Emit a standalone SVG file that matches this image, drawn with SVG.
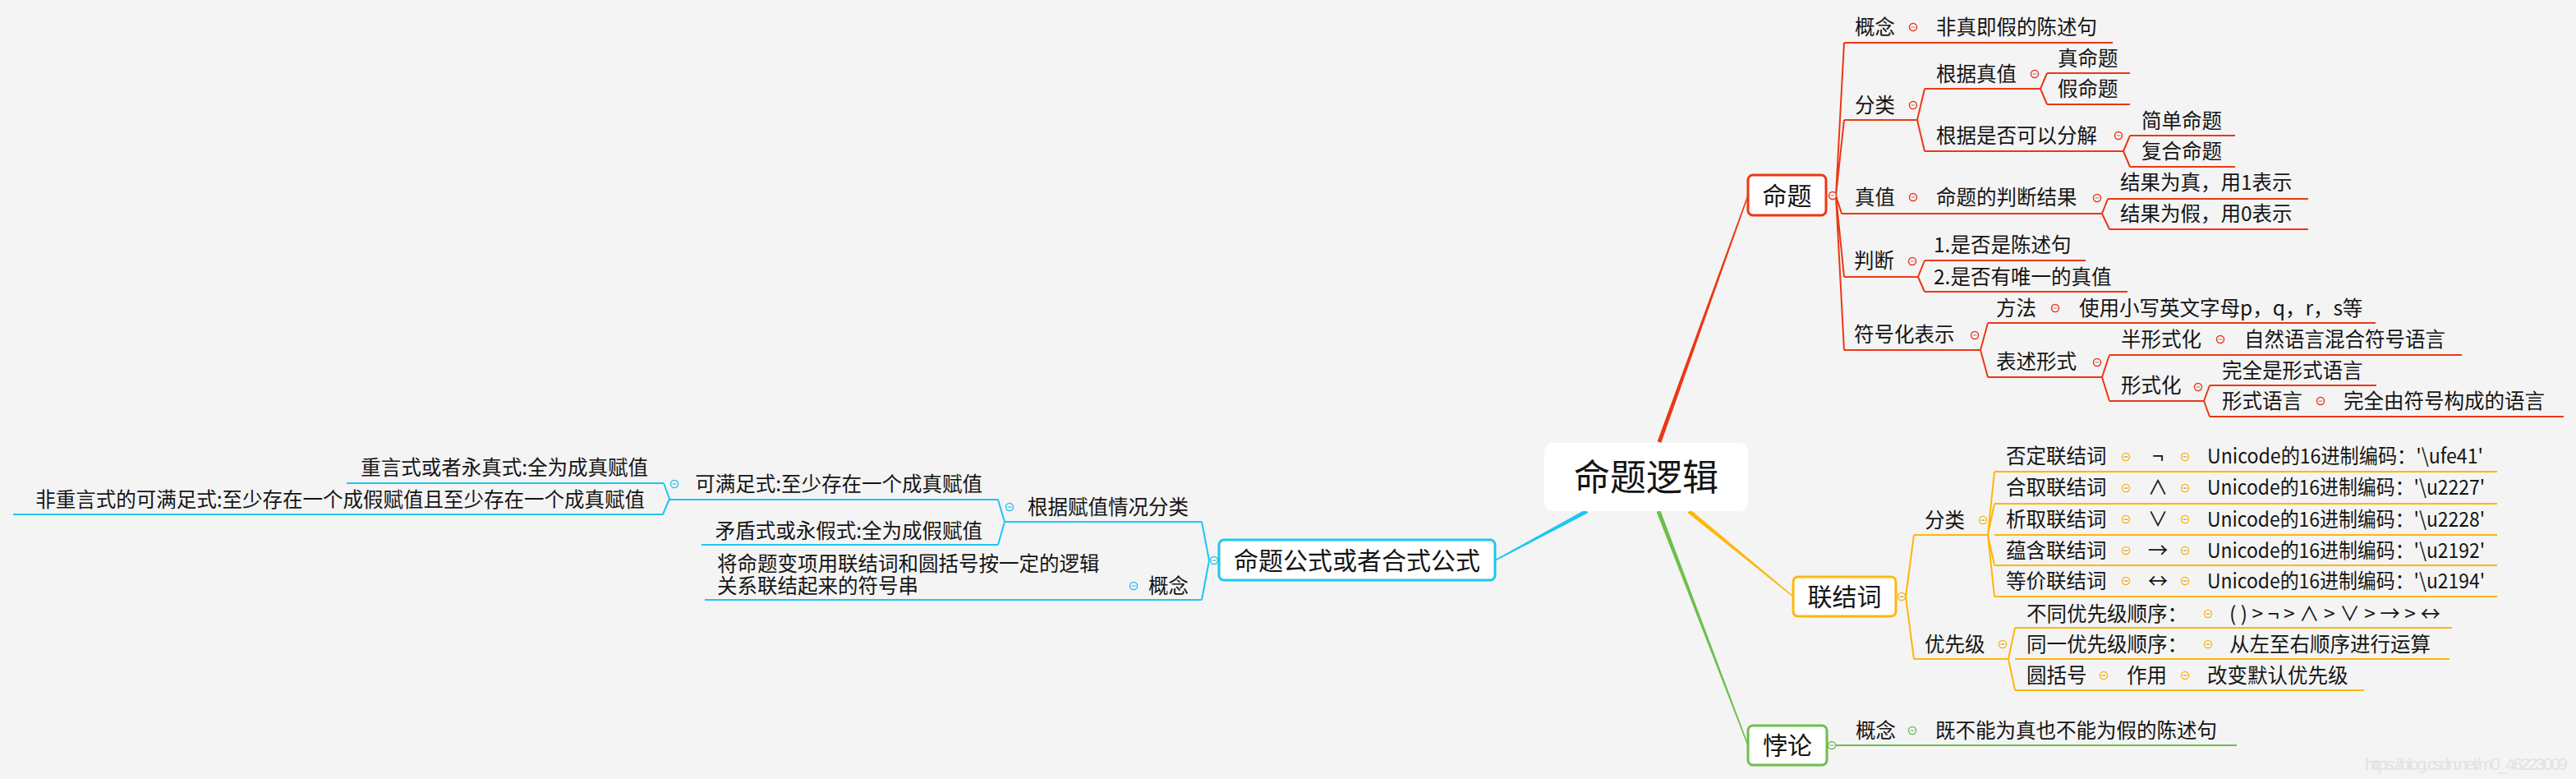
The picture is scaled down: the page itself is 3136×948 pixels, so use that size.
<svg xmlns="http://www.w3.org/2000/svg" xmlns:xlink="http://www.w3.org/1999/xlink" width="3136" height="948" viewBox="0 0 3136 948">
<style>
text{font-family:"Noto Sans CJK SC","Noto Sans",sans-serif;fill:#141414}
.t{font-size:24.5px}
.m{font-size:30px;text-anchor:middle}
.c{font-size:44px;text-anchor:middle}
.e{text-anchor:end}
.ln{fill:none;stroke-width:2}
.R{stroke:#ec3714;color:#ec3714}
.O{stroke:#ffb60a;color:#ffb60a}
.G{stroke:#6cbf4b;color:#6cbf4b}
.B{stroke:#1cc6f2;color:#1cc6f2}
.box{fill:#fff;stroke-width:3}
.wm{font-family:"Liberation Sans",sans-serif;font-size:21px;fill:#e2e2e2}
</style>
<defs>
<g id="tg"><circle r="4.5" fill="#fff" stroke="currentColor" stroke-width="1.5"/><path d="M-2.5,0H2.5" stroke="#8090b0" stroke-width="1.2"/></g>
</defs>
<rect width="3136" height="948" fill="#f4f4f4"/>

<g id="connectors">
<polygon fill="#ec3714" points="2022.35,538.85 2128.71,238.25 2127.29,237.75 2017.65,537.15"/>
<polygon fill="#ffb60a" points="2054.42,623.93 2182.53,726.58 2183.47,725.42 2057.58,620.07"/>
<polygon fill="#6cbf4b" points="2016.66,622.89 2127.3,907.27 2128.7,906.73 2021.34,621.11"/>
<polygon fill="#1cc6f2" points="1930.82,619.8 1819.65,681.34 1820.35,682.66 1933.18,624.2"/>
<path class="ln R" d="M2235,238L2245,52M2235,238L2245,146M2235,238L2242,260M2235,238L2245,337M2235,238L2245,426"/>
<path class="ln R" d="M2334,146L2343,108M2334,146L2343,184M2484,108L2492,89M2484,108L2492,127M2585,184L2593,165M2585,184L2593,203"/>
<path class="ln R" d="M2559,260L2566,242M2559,260L2568,279M2335,337L2343,317M2335,337L2343,355"/>
<path class="ln R" d="M2411,426L2420,393M2411,426L2420,459M2559,459L2568,432M2559,459L2568,488M2683,488L2690,469M2683,488L2690,507"/>
<path class="ln O" d="M2320,726L2330,651M2320,726L2330,802M2420,651L2428,574M2420,651L2428,613M2420,651L2428,688M2420,651L2428,726M2445,802L2453,764M2445,802L2453,840"/>
<path class="ln G" d="M2234,907L2242,907"/>
<path class="ln B" d="M1472,682L1463,635M1472,682L1463,730M1223,635L1215,608M1223,635L1215,663M815,607L808,588M815,607L807,626"/>
</g>

<g id="root">
<rect x="1880" y="539" width="248" height="83" rx="10" fill="#fff"/>
<text class="c" x="2004" y="597">命题逻辑</text>
</g>

<g id="n-mingti">
<rect class="box R" x="2128" y="213" width="95" height="49" rx="6"/>
<text class="m" x="2175.5" y="249">命题</text>
<use href="#tg" x="2231" y="238" class="R"/>
</g>
<g id="n-gainian1">
<path class="ln R" d="M2245,52H2572"/>
<text class="t" x="2258" y="42">概念</text>
<use href="#tg" x="2329" y="33" class="R"/>
<text class="t" x="2357" y="42">非真即假的陈述句</text>
</g>
<g id="n-fenlei1">
<path class="ln R" d="M2245,146H2334"/>
<text class="t" x="2258" y="137">分类</text>
<use href="#tg" x="2329" y="128" class="R"/>
</g>
<g id="n-genjuzhenzhi">
<path class="ln R" d="M2343,108H2484"/>
<text class="t" x="2357" y="99">根据真值</text>
<use href="#tg" x="2477" y="90" class="R"/>
</g>
<g id="n-zhenmingti">
<path class="ln R" d="M2492,89H2593"/>
<text class="t" x="2505" y="80">真命题</text>
</g>
<g id="n-jiamingti">
<path class="ln R" d="M2492,127H2593"/>
<text class="t" x="2505" y="117">假命题</text>
</g>
<g id="n-fenjie">
<path class="ln R" d="M2343,184H2585"/>
<text class="t" x="2357" y="174">根据是否可以分解</text>
<use href="#tg" x="2579" y="165" class="R"/>
</g>
<g id="n-jiandan">
<path class="ln R" d="M2593,165H2721"/>
<text class="t" x="2607" y="156">简单命题</text>
</g>
<g id="n-fuhe">
<path class="ln R" d="M2593,203H2721"/>
<text class="t" x="2607" y="193">复合命题</text>
</g>
<g id="n-zhenzhi">
<path class="ln R" d="M2242,260H2559"/>
<text class="t" x="2258" y="249">真值</text>
<use href="#tg" x="2329" y="240" class="R"/>
<text class="t" x="2357" y="249">命题的判断结果</text>
<use href="#tg" x="2553" y="241" class="R"/>
</g>
<g id="n-jieguozhen">
<path class="ln R" d="M2566,242H2810"/>
<text class="t" x="2581" y="231">结果为真，用1表示</text>
</g>
<g id="n-jieguojia">
<path class="ln R" d="M2568,279H2810"/>
<text class="t" x="2581" y="269">结果为假，用0表示</text>
</g>
<g id="n-panduan">
<path class="ln R" d="M2245,337H2335"/>
<text class="t" x="2257" y="326">判断</text>
<use href="#tg" x="2328" y="318" class="R"/>
</g>
<g id="n-pd1">
<path class="ln R" d="M2343,317H2539"/>
<text class="t" x="2354" y="307">1.是否是陈述句</text>
</g>
<g id="n-pd2">
<path class="ln R" d="M2343,355H2590"/>
<text class="t" x="2354" y="346">2.是否有唯一的真值</text>
</g>
<g id="n-fuhaohua">
<path class="ln R" d="M2245,426H2411"/>
<text class="t" x="2257" y="416">符号化表示</text>
<use href="#tg" x="2404" y="408" class="R"/>
</g>
<g id="n-fangfa">
<path class="ln R" d="M2420,393H2892"/>
<text class="t" x="2430" y="384">方法</text>
<use href="#tg" x="2502" y="375" class="R"/>
<text class="t" x="2531" y="384">使用小写英文字母p，q，r，s等</text>
</g>
<g id="n-biaoshu">
<path class="ln R" d="M2420,459H2559"/>
<text class="t" x="2430" y="449">表述形式</text>
<use href="#tg" x="2553" y="441" class="R"/>
</g>
<g id="n-banxingshi">
<path class="ln R" d="M2568,432H2997"/>
<text class="t" x="2582" y="422">半形式化</text>
<use href="#tg" x="2703" y="413" class="R"/>
<text class="t" x="2732" y="422">自然语言混合符号语言</text>
</g>
<g id="n-xingshihua">
<path class="ln R" d="M2568,488H2683"/>
<text class="t" x="2582" y="478">形式化</text>
<use href="#tg" x="2676" y="471" class="R"/>
</g>
<g id="n-wanquan">
<path class="ln R" d="M2690,469H2893"/>
<text class="t" x="2705" y="460">完全是形式语言</text>
</g>
<g id="n-xingshiyuyan">
<path class="ln R" d="M2690,507H3121"/>
<text class="t" x="2705" y="497">形式语言</text>
<use href="#tg" x="2825" y="488" class="R"/>
<text class="t" x="2853" y="497">完全由符号构成的语言</text>
</g>

<g id="n-lianjieci">
<rect class="box O" x="2183" y="702" width="125" height="48" rx="6"/>
<text class="m" x="2245.5" y="737">联结词</text>
<use href="#tg" x="2315" y="726" class="O"/>
</g>
<g id="n-fenlei2">
<path class="ln O" d="M2330,651H2420"/>
<text class="t" x="2343" y="642">分类</text>
<use href="#tg" x="2414" y="633" class="O"/>
</g>
<g id="n-fouding">
<path class="ln O" d="M2428,574H3040"/>
<text class="t" x="2442" y="564">否定联结词</text>
<use href="#tg" x="2588" y="556" class="O"/>
<text class="t" x="2627" y="564" text-anchor="middle">¬</text>
<use href="#tg" x="2660" y="556" class="O"/>
<text class="t" x="2687" y="564" textLength="336" lengthAdjust="spacingAndGlyphs">Unicode的16进制编码：'\ufe41'</text>
</g>
<g id="n-hequ">
<path class="ln O" d="M2428,613H3040"/>
<text class="t" x="2442" y="602">合取联结词</text>
<use href="#tg" x="2588" y="594" class="O"/>
<text class="t" x="2627" y="602" text-anchor="middle">∧</text>
<use href="#tg" x="2660" y="594" class="O"/>
<text class="t" x="2687" y="602" textLength="338" lengthAdjust="spacingAndGlyphs">Unicode的16进制编码：'\u2227'</text>
</g>
<g id="n-xiqu">
<path class="ln O" d="M2428,651H3040"/>
<text class="t" x="2442" y="641">析取联结词</text>
<use href="#tg" x="2588" y="632" class="O"/>
<text class="t" x="2627" y="641" text-anchor="middle">∨</text>
<use href="#tg" x="2660" y="632" class="O"/>
<text class="t" x="2687" y="641" textLength="338" lengthAdjust="spacingAndGlyphs">Unicode的16进制编码：'\u2228'</text>
</g>
<g id="n-yunhan">
<path class="ln O" d="M2428,688H3040"/>
<text class="t" x="2442" y="679">蕴含联结词</text>
<use href="#tg" x="2588" y="670" class="O"/>
<text class="t" x="2627" y="679" text-anchor="middle">→</text>
<use href="#tg" x="2660" y="670" class="O"/>
<text class="t" x="2687" y="679" textLength="338" lengthAdjust="spacingAndGlyphs">Unicode的16进制编码：'\u2192'</text>
</g>
<g id="n-dengjia">
<path class="ln O" d="M2428,726H3040"/>
<text class="t" x="2442" y="716">等价联结词</text>
<use href="#tg" x="2588" y="707" class="O"/>
<text class="t" x="2627" y="716" text-anchor="middle">↔</text>
<use href="#tg" x="2660" y="707" class="O"/>
<text class="t" x="2687" y="716" textLength="338" lengthAdjust="spacingAndGlyphs">Unicode的16进制编码：'\u2194'</text>
</g>
<g id="n-youxianji">
<path class="ln O" d="M2330,802H2445"/>
<text class="t" x="2343" y="793">优先级</text>
<use href="#tg" x="2438" y="784" class="O"/>
</g>
<g id="n-butong">
<path class="ln O" d="M2453,764H2985"/>
<text class="t" x="2467" y="756">不同优先级顺序：</text>
<use href="#tg" x="2688" y="747" class="O"/>
<text class="t" x="2714" y="756" textLength="257">()&gt;¬&gt;∧&gt;∨&gt;→&gt;↔</text>
</g>
<g id="n-tongyi">
<path class="ln O" d="M2453,802H2982"/>
<text class="t" x="2467" y="793">同一优先级顺序：</text>
<use href="#tg" x="2688" y="784" class="O"/>
<text class="t" x="2714" y="793">从左至右顺序进行运算</text>
</g>
<g id="n-yuankuohao">
<path class="ln O" d="M2453,840H2878"/>
<text class="t" x="2467" y="831">圆括号</text>
<use href="#tg" x="2561" y="822" class="O"/>
<text class="t" x="2589" y="831">作用</text>
<use href="#tg" x="2660" y="822" class="O"/>
<text class="t" x="2687" y="831">改变默认优先级</text>
</g>

<g id="n-beilun">
<rect class="box G" x="2128" y="883" width="96" height="48" rx="6"/>
<text class="m" x="2176" y="918">悖论</text>
<use href="#tg" x="2230" y="907" class="G"/>
<path class="ln G" d="M2242,907H2723"/>
<text class="t" x="2259" y="898">概念</text>
<use href="#tg" x="2328" y="889" class="G"/>
<text class="t" x="2356" y="898">既不能为真也不能为假的陈述句</text>
</g>

<g id="n-gongshi">
<rect class="box B" x="1484" y="657" width="336" height="49" rx="6"/>
<text class="m" x="1652" y="693">命题公式或者合式公式</text>
<use href="#tg" x="1478" y="682" class="B"/>
</g>
<g id="n-fuzhi">
<path class="ln B" d="M1463,635H1223"/>
<text class="t e" x="1447" y="626">根据赋值情况分类</text>
<use href="#tg" x="1229" y="617" class="B"/>
</g>
<g id="n-kemanzu">
<path class="ln B" d="M1215,608H815"/>
<text class="t e" x="1196" y="598">可满足式:至少存在一个成真赋值</text>
<use href="#tg" x="821" y="589" class="B"/>
</g>
<g id="n-zhongyan">
<path class="ln B" d="M808,588H422"/>
<text class="t e" x="789" y="578">重言式或者永真式:全为成真赋值</text>
</g>
<g id="n-feizhongyan">
<path class="ln B" d="M807,626H16"/>
<text class="t e" x="785" y="617">非重言式的可满足式:至少存在一个成假赋值且至少存在一个成真赋值</text>
</g>
<g id="n-maodun">
<path class="ln B" d="M1215,663H854"/>
<text class="t e" x="1196" y="655">矛盾式或永假式:全为成假赋值</text>
</g>
<g id="n-gainian3">
<path class="ln B" d="M1463,730H858"/>
<text class="t e" x="1447" y="722">概念</text>
<use href="#tg" x="1380" y="713" class="B"/>
<text class="t" x="873" y="695">将命题变项用联结词和圆括号按一定的逻辑</text>
<text class="t" x="873" y="722">关系联结起来的符号串</text>
</g>

<text class="wm" x="2879" y="937" textLength="247">https://blog.csdn.net/m0_46223009</text>
</svg>
